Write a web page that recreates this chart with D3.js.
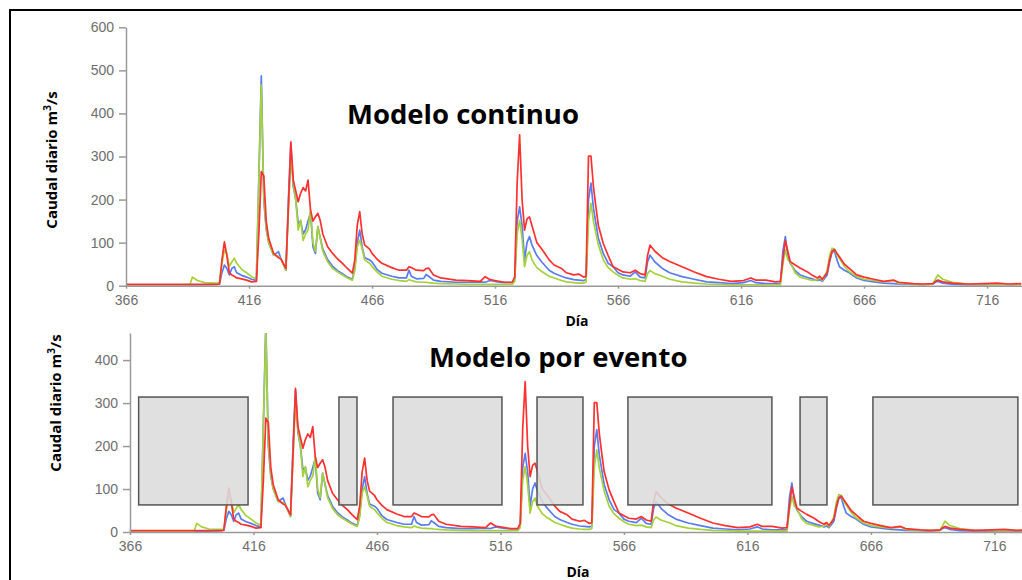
<!DOCTYPE html>
<html>
<head>
<meta charset="utf-8">
<script src="https://cdn.jsdelivr.net/npm/d3@7"></script>
<style>
  body { margin: 0; background: #fff; }
  .tick text { font-family: "Liberation Sans", Arial, sans-serif; font-size: 14px; fill: #6e6e6e; }
  .tick line, .domain { stroke: #9a9a9a; stroke-width: 1.5; }
</style>
</head>
<body>
<svg id="chart" width="1022" height="580"></svg>
<script>
// key days (day number of the series)
const days = [366, 380, 392, 393, 395, 398, 403, 404, 405, 406, 407, 408, 409, 410, 411, 413, 415, 417, 419,
  420, 421, 422, 423, 424, 426, 428, 429, 431, 432, 433, 434, 435, 436, 437, 438, 439, 440, 441, 442, 443,
  444, 445, 446, 448, 450, 452, 454, 456, 458, 459, 460, 461, 462, 463, 465, 466, 468, 470, 474, 477, 480,
  481, 482, 484, 487, 488, 489, 491, 494, 500, 505, 510, 512, 514, 517, 520, 523, 524, 525, 526, 527, 528,
  529, 530, 531, 533, 535, 538, 540, 543, 545, 548, 550, 552, 553, 554, 555, 556, 557, 558, 560, 562, 564,
  566, 568, 571, 573, 575, 577, 578, 579, 581, 584, 587, 592, 597, 602, 607, 612, 617, 620, 622, 626, 630,
  632, 633, 634, 635, 636, 638, 640, 643, 645, 647, 648, 649, 651, 652, 653, 654, 655, 656, 658, 660, 663,
  666, 670, 674, 678, 680, 686, 690, 694, 695, 696, 698, 702, 708, 715, 720, 725, 730];

// daily flow, m3/s, three simulations
const flowRed = [3, 3, 3, 3, 3, 3, 3, 4, 60, 102, 70, 30, 25, 22, 18, 16, 13, 9, 10,
  120, 265, 255, 150, 110, 75, 65, 62, 40, 180, 334, 245, 220, 195, 215, 228, 220, 245, 176, 150, 160,
  168, 150, 120, 90, 75, 62, 52, 40, 29, 60, 140, 172, 120, 95, 85, 75, 62, 52, 42, 36, 36,
  44, 42, 36, 35, 40, 41, 25, 18, 13, 12, 10, 21, 14, 11, 8, 8, 20, 240, 350, 200, 129,
  155, 160, 140, 100, 85, 60, 48, 40, 30, 25, 27, 20, 22, 301, 301, 230, 183, 140, 98, 70, 44,
  38, 32, 30, 36, 28, 25, 70, 94, 80, 65, 56, 44, 32, 21, 15, 10, 12, 18, 13, 13, 9,
  10, 60, 105, 80, 56, 48, 41, 32, 24, 18, 22, 15, 30, 60, 80, 84, 75, 67, 50, 40, 25,
  20, 15, 10, 13, 8, 5, 4, 5, 10, 13, 9, 6, 4, 5, 6, 4, 5];

const flowBlue = [2, 2, 2, 2, 2, 2, 3, 4, 30, 48, 40, 25, 40, 44, 30, 24, 20, 15, 12,
  250, 487, 200, 130, 100, 71, 79, 62, 36, 200, 330, 230, 200, 145, 150, 120, 130, 150, 170, 90, 75,
  137, 110, 85, 60, 45, 35, 28, 20, 15, 40, 100, 129, 90, 65, 60, 55, 38, 29, 22, 18, 18,
  36, 22, 16, 17, 26, 22, 13, 10, 8, 8, 9, 8, 12, 9, 7, 7, 15, 150, 183, 140, 60,
  100, 114, 95, 70, 55, 36, 29, 22, 18, 14, 13, 12, 14, 200, 238, 180, 145, 110, 75, 52, 44,
  30, 25, 22, 32, 20, 18, 55, 71, 55, 40, 30, 21, 15, 9, 7, 5, 7, 12, 7, 5, 5,
  5, 80, 114, 70, 52, 35, 25, 19, 16, 12, 14, 10, 25, 55, 78, 80, 60, 44, 36, 30, 18,
  12, 9, 6, 5, 4, 3, 2, 4, 8, 10, 6, 3, 2, 2, 3, 2, 3];

const flowGreen = [2, 2, 2, 20, 12, 7, 6, 7, 50, 83, 75, 45, 55, 64, 52, 38, 30, 21, 16,
  250, 466, 210, 135, 100, 71, 68, 62, 36, 170, 300, 238, 199, 129, 152, 105, 120, 130, 176, 100, 80,
  137, 110, 80, 55, 40, 32, 25, 18, 13, 35, 90, 106, 85, 60, 52, 45, 32, 22, 15, 12, 10,
  14, 12, 9, 8, 8, 7, 6, 5, 4, 3, 3, 3, 3, 3, 3, 3, 10, 120, 152, 110, 44,
  70, 79, 60, 42, 33, 22, 18, 12, 9, 7, 6, 6, 8, 150, 191, 150, 122, 95, 60, 42, 32,
  24, 18, 15, 16, 12, 10, 28, 35, 28, 22, 15, 9, 6, 4, 3, 2, 2, 2, 2, 2, 2,
  2, 50, 83, 60, 55, 30, 20, 15, 12, 14, 21, 12, 35, 70, 87, 85, 72, 63, 45, 33, 21,
  15, 12, 9, 12, 6, 4, 3, 4, 15, 25, 15, 8, 4, 3, 3, 3, 3];

const xTickValues = [366, 416, 466, 516, 566, 616, 666, 716];
const yTicksContinuo = [0, 100, 200, 300, 400, 500, 600];
const yTicksEvento = [0, 100, 200, 300, 400];

// dry periods not simulated by the event model (day ranges)
const gapStart = [369.5, 450.6, 472.5, 530.8, 567.6, 637.3, 666.8];
const gapEnd = [413.8, 457.9, 516.6, 549.4, 625.9, 648.2, 725.5];
const gapLow = 63, gapHigh = 314;

const seriesColors = { blue: "#5a7cf2", green: "#a5d23a", red: "#ff3030" };

const svg = d3.select("#chart");

// outer frame
svg.append("rect")
  .attr("x", 10).attr("y", 10)
  .attr("width", 1040).attr("height", 620)
  .attr("fill", "none").attr("stroke", "#000").attr("stroke-width", 2);

const series = [
  { values: flowBlue, color: seriesColors.blue },
  { values: flowGreen, color: seriesColors.green },
  { values: flowRed, color: seriesColors.red },
];

function drawPanel(opt) {
  const x = d3.scaleLinear().domain([366, 730]).range([opt.left, opt.right]);
  const y = d3.scaleLinear().domain([0, opt.ymax]).range([opt.bottom, opt.top]);

  const g = svg.append("g");

  g.append("text")
    .attr("x", opt.titleX).attr("y", opt.titleY)
    .attr("font-family", "'Open Sans', sans-serif")
    .attr("font-weight", "bold")
    .attr("font-size", opt.titleSize)
    .attr("fill", "#000")
    .text(opt.title);

  const clipId = "clip" + opt.id;
  svg.append("clipPath").attr("id", clipId)
    .append("rect")
    .attr("x", opt.left).attr("y", opt.top)
    .attr("width", opt.right - opt.left).attr("height", opt.bottom - opt.top);

  const line = d3.line()
    .x((d, i) => x(days[i]))
    .y(d => y(d));

  g.append("g").attr("clip-path", `url(#${clipId})`)
    .selectAll("path")
    .data(series)
    .enter()
    .append("path")
    .attr("d", d => line(d.values))
    .attr("fill", "none")
    .attr("stroke", d => d.color)
    .attr("stroke-width", 1.7)
    .attr("stroke-linejoin", "round");

  if (opt.gaps) {
    g.selectAll("rect.gap")
      .data(gapStart)
      .enter()
      .append("rect")
      .attr("class", "gap")
      .attr("x", d => x(d))
      .attr("y", y(gapHigh))
      .attr("width", (d, i) => x(gapEnd[i]) - x(d))
      .attr("height", y(gapLow) - y(gapHigh))
      .attr("fill", "#dcdcdc")
      .attr("fill-opacity", 0.88)
      .attr("stroke", "#555")
      .attr("stroke-width", 1.5);
  }

  g.append("g")
    .attr("transform", `translate(0,${opt.bottom})`)
    .call(d3.axisBottom(x).tickValues(xTickValues).tickSize(3).tickSizeOuter(0).tickPadding(6));

  g.append("g")
    .attr("transform", `translate(${opt.left},0)`)
    .call(d3.axisLeft(y).tickValues(opt.yTicks).tickSize(7).tickSizeOuter(0).tickPadding(5));

  // y label, m3/s with superscript
  const yl = g.append("text")
    .attr("transform", `translate(${opt.ylabX},${opt.ylabY}) rotate(-90)`)
    .attr("text-anchor", "middle")
    .attr("font-family", "'Open Sans', sans-serif")
    .attr("font-weight", "bold")
    .attr("font-size", 15)
    .attr("fill", "#000");
  yl.append("tspan").text("Caudal diario m");
  yl.append("tspan").attr("dy", -6).attr("font-size", 10).text("3");
  yl.append("tspan").attr("dy", 6).text("/s");

  g.append("text")
    .attr("x", opt.xlabX).attr("y", opt.xlabY)
    .attr("text-anchor", "middle")
    .attr("font-family", "'Open Sans', sans-serif")
    .attr("font-weight", "bold")
    .attr("font-size", 14)
    .attr("fill", "#000")
    .text("Día");
}

drawPanel({
  id: "top", title: "Modelo continuo", titleX: 347, titleY: 124, titleSize: 27.5,
  left: 126, right: 1021.5, top: 27.3, bottom: 285.7, ymax: 600,
  yTicks: yTicksContinuo, ylabX: 57, ylabY: 160, xlabX: 577, xlabY: 326, gaps: false
});

drawPanel({
  id: "bottom", title: "Modelo por evento", titleX: 429, titleY: 367, titleSize: 27.5,
  left: 130, right: 1029, top: 333, bottom: 532, ymax: 463,
  yTicks: yTicksEvento, ylabX: 61, ylabY: 403, xlabX: 578, xlabY: 577, gaps: true
});
</script>
</body>
</html>
